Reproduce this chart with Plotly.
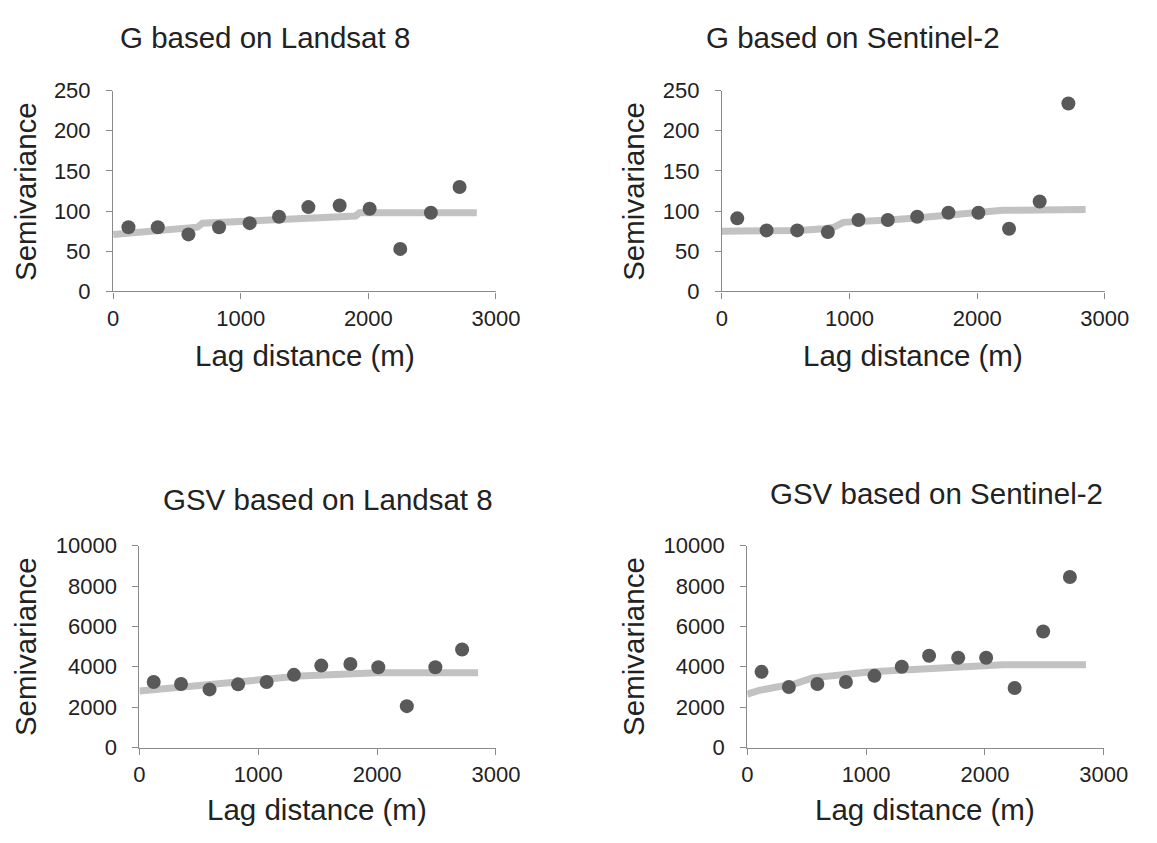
import plotly.graph_objects as go
from plotly.subplots import make_subplots

# ---------------- data ----------------
lag = [120, 350, 590, 830, 1070, 1300, 1530, 1775, 2010, 2250, 2490, 2715]

g_landsat_obs = [80, 80, 71, 80, 85, 93, 105, 107, 103, 53, 98, 130]
g_sentinel_obs = [91, 76, 76, 74, 89, 89, 93, 98, 98, 78, 112, 234]
gsv_landsat_obs = [3250, 3150, 2880, 3130, 3250, 3600, 4060, 4140, 3980, 2050, 3980, 4860]
gsv_sentinel_obs = [3750, 3000, 3150, 3250, 3550, 4000, 4550, 4450, 4450, 2950, 5750, 8450]

g_landsat_model_x = [0, 150, 300, 450, 600, 660, 700, 850, 1000, 1200, 1400, 1600, 1800, 1900, 1930, 2200, 2500, 2850]
g_landsat_model_y = [71, 73, 75, 77, 79, 80, 85, 86, 88, 89, 91, 92, 93, 94, 98, 98, 98, 98]

g_sentinel_model_x = [0, 200, 400, 600, 800, 880, 950, 1100, 1300, 1500, 1700, 1900, 2100, 2200, 2500, 2850]
g_sentinel_model_y = [75, 75, 75, 76, 78, 80, 86, 88, 89, 91, 94, 97, 99, 101, 101.5, 102]

gsv_landsat_model_x = [0, 150, 300, 450, 600, 750, 900, 1050, 1200, 1350, 1500, 1650, 1700, 2000, 2400, 2850]
gsv_landsat_model_y = [2800, 2880, 2980, 3080, 3170, 3260, 3350, 3420, 3480, 3540, 3580, 3620, 3700, 3700, 3700, 3700]

gsv_sentinel_model_x = [0, 100, 250, 400, 550, 700, 850, 1000, 1200, 1400, 1600, 1800, 2000, 2150, 2500, 2850]
gsv_sentinel_model_y = [2650, 2830, 3000, 3150, 3450, 3550, 3660, 3730, 3800, 3860, 3910, 3960, 4020, 4100, 4100, 4100]

titles = ["G based on Landsat 8", "G based on Sentinel-2",
          "GSV based on Landsat 8", "GSV based on Sentinel-2"]
x_title = "Lag distance (m)"
y_title = "Semivariance"

# ---------------- layout helpers ----------------
W, H = 1157, 843
def px(x):
    return x / W
def py(y):
    return 1 - y / H

FONT = "Liberation Sans, Arial, sans-serif"
TXT = "#222222"
AX = "#8a8a8a"
DOT = "#595959"
MODEL = "#c2c2c2"

panels = [
    dict(obs=g_landsat_obs, mx=g_landsat_model_x, my=g_landsat_model_y,
         xd=(110, 503), yd=(81, 288), yr=250, dt=50,
         title=(265.5, 26), xt=(307, 354), yt=(20, 185)),
    dict(obs=g_sentinel_obs, mx=g_sentinel_model_x, my=g_sentinel_model_y,
         xd=(735, 1128), yd=(81, 288), yr=250, dt=50,
         title=(870, 26), xt=(931, 354), yt=(644, 185)),
    dict(obs=gsv_landsat_obs, mx=gsv_landsat_model_x, my=gsv_landsat_model_y,
         xd=(137, 503), yd=(550, 758), yr=10000, dt=2000,
         title=(331, 502), xt=(319, 822), yt=(20, 654)),
    dict(obs=gsv_sentinel_obs, mx=gsv_sentinel_model_x, my=gsv_sentinel_model_y,
         xd=(761, 1127), yd=(550, 758), yr=10000, dt=2000,
         title=(955.5, 496), xt=(943.5, 822), yt=(644, 654)),
]

fig = make_subplots(rows=2, cols=2)
annotations = []
for i, p in enumerate(panels):
    r, c = i // 2 + 1, i % 2 + 1
    fig.add_trace(go.Scatter(x=p["mx"], y=p["my"], mode="lines",
                             line=dict(color=MODEL, width=7),
                             showlegend=False, hoverinfo="skip"), row=r, col=c)
    fig.add_trace(go.Scatter(x=lag, y=p["obs"], mode="markers",
                             marker=dict(color=DOT, size=14),
                             showlegend=False, cliponaxis=False), row=r, col=c)
    sfx = "" if i == 0 else str(i + 1)
    fig.layout["xaxis" + sfx].update(
        domain=[px(p["xd"][0]), px(p["xd"][1])], range=[0, 3000], dtick=1000,
        tick0=0, showgrid=False, zeroline=False, showline=True, linecolor=AX,
        linewidth=1.3, ticks="outside", ticklen=6, tickcolor=AX, tickwidth=1.3,
        tickformat="d",
        tickfont=dict(family=FONT, size=22, color=TXT), ticklabelstandoff=1,
        anchor="y" + sfx)
    fig.layout["yaxis" + sfx].update(
        domain=[py(p["yd"][1]), py(p["yd"][0])], range=[0, p["yr"]], dtick=p["dt"],
        tick0=0, showgrid=False, zeroline=False, showline=True, linecolor=AX,
        linewidth=1.3, ticks="outside", ticklen=6, tickcolor=AX, tickwidth=1.3,
        tickformat="d",
        tickfont=dict(family=FONT, size=22, color=TXT), ticklabelstandoff=11,
        anchor="x" + sfx)
    annotations.append(dict(text=titles[i], x=px(p["title"][0]), y=py(p["title"][1]),
                            xref="paper", yref="paper", showarrow=False,
                            xanchor="center", yanchor="middle",
                            font=dict(family=FONT, size=29.5, color=TXT)))
    annotations.append(dict(text=x_title, x=px(p["xt"][0]), y=py(p["xt"][1]),
                            xref="paper", yref="paper", showarrow=False,
                            xanchor="center", yanchor="middle",
                            font=dict(family=FONT, size=29.5, color=TXT)))
    annotations.append(dict(text=y_title, x=px(p["yt"][0]), y=py(p["yt"][1]),
                            xref="paper", yref="paper", showarrow=False,
                            xanchor="center", yanchor="middle", textangle=-90,
                            font=dict(family=FONT, size=29.5, color=TXT)))

fig.update_layout(width=W, height=H, margin=dict(l=0, r=0, t=0, b=0),
                  paper_bgcolor="white", plot_bgcolor="white",
                  annotations=annotations, showlegend=False)

fig.write_html("out.html")
